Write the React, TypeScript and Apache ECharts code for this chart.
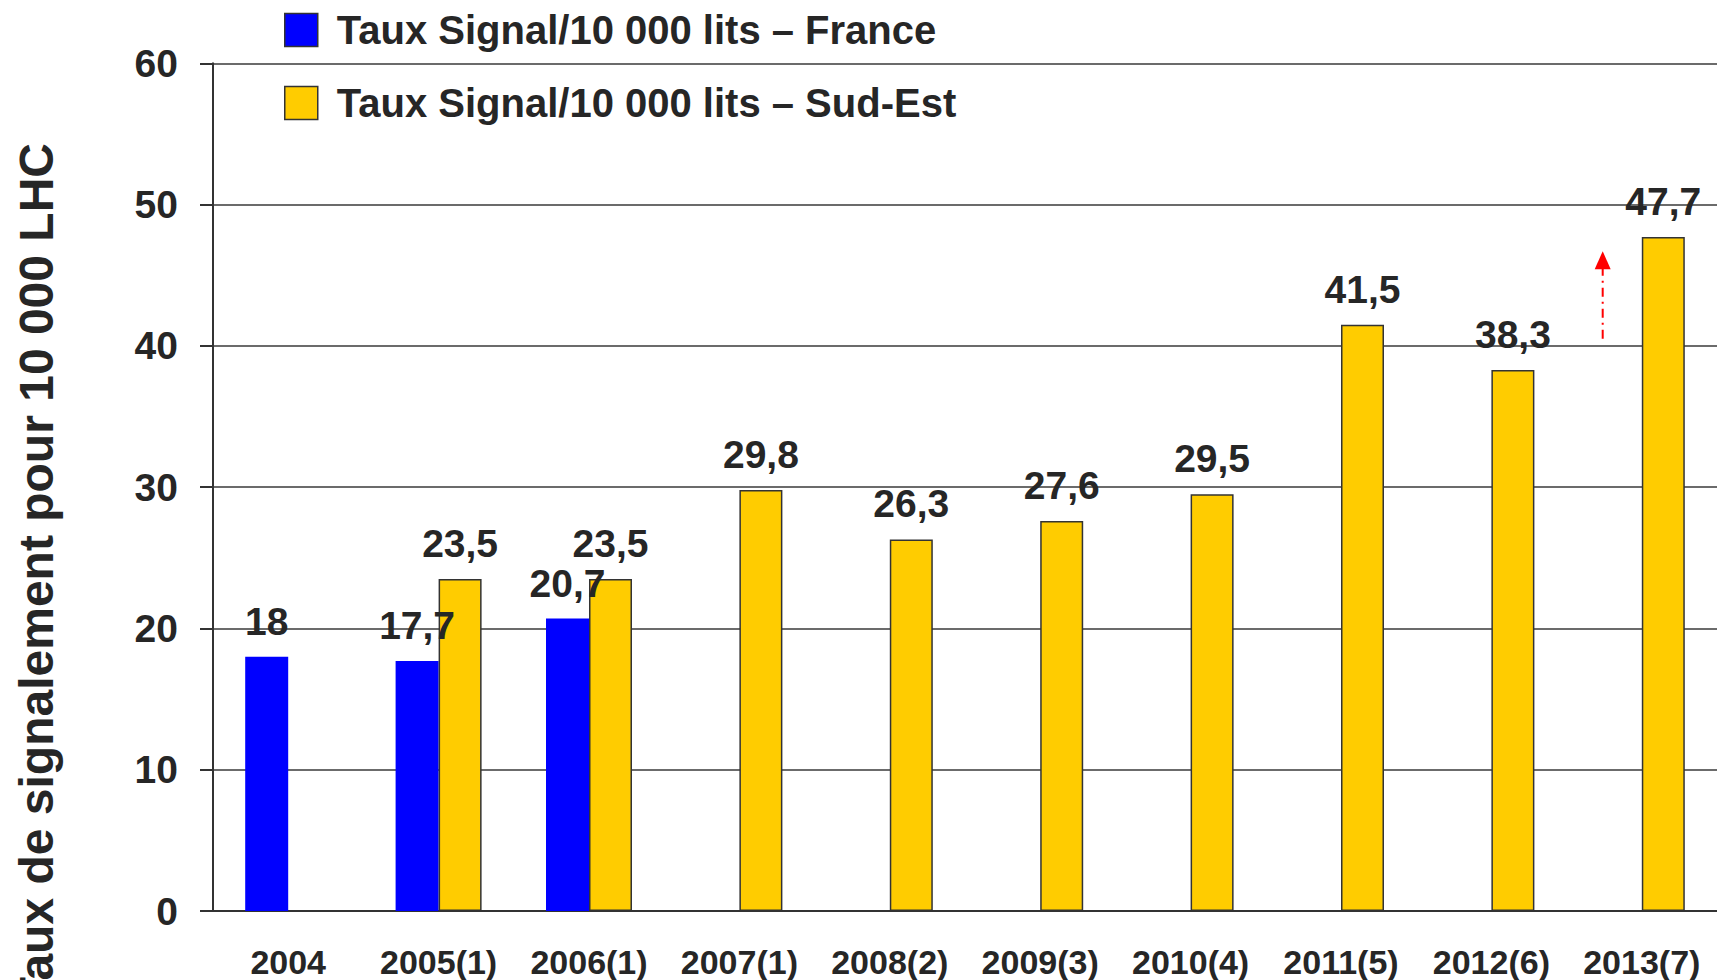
import React, { useEffect, useRef } from "react";
import * as echarts from "echarts";

const categories = [
  "2004",
  "2005(1)",
  "2006(1)",
  "2007(1)",
  "2008(2)",
  "2009(3)",
  "2010(4)",
  "2011(5)",
  "2012(6)",
  "2013(7)",
];
const franceValues = [18, 17.7, 20.7, null, null, null, null, null, null, null];
const sudEstValues = [null, 23.5, 23.5, 29.8, 26.3, 27.6, 29.5, 41.5, 38.3, 47.7];
const seriesNames = [
  "Taux Signal/10 000 lits \u2013 France",
  "Taux Signal/10 000 lits \u2013 Sud-Est",
];
const yAxisTitle = "Taux de signalement pour 10 000 LHC";
const yTicks = { min: 0, max: 60, interval: 10 };
// annotation arrow (value range) near 2013
const arrowCategory = "2013(7)";
const arrowFrom = 40.5;
const arrowLineTo = 45.5;
const arrowTip = 46.7;

const TEXT = "#262626";
const FONT = "'Liberation Sans', Arial, sans-serif";

const fmt = (v: number) => String(v).replace(".", ",");

export default function App() {
  const ref = useRef<HTMLDivElement>(null);
  useEffect(() => {
    document.body.style.margin = "0";
    const chart = echarts.init(ref.current!, null, { renderer: "svg" });
    const labelCfg = {
      show: true,
      position: "top",
      distance: 16,
      color: TEXT,
      fontSize: 39,
      fontWeight: "bold",
      fontFamily: FONT,
      formatter: (p: any) => fmt(p.value),
    };
    chart.setOption({
      animation: false,
      backgroundColor: "#ffffff",
      textStyle: { fontFamily: FONT },
      grid: { left: 213, right: 0, top: 63.3, bottom: 69, containLabel: false },
      legend: {
        orient: "vertical",
        left: 279,
        top: 5,
        itemWidth: 33,
        itemHeight: 33,
        itemGap: 33,
        icon: "rect",
        itemStyle: { borderColor: "#333333", borderWidth: 1.5 },
        textStyle: {
          color: TEXT,
          fontSize: 40,
          fontWeight: "bold",
          fontFamily: FONT,
          padding: [0, 0, 0, 14],
        },
        data: seriesNames,
      },
      xAxis: {
        type: "category",
        data: categories,
        axisLine: { lineStyle: { color: "#333333", width: 2 } },
        axisTick: { length: 11, lineStyle: { color: "#333333", width: 2 } },
        axisLabel: {
          color: TEXT,
          fontSize: 34,
          fontWeight: "bold",
          fontFamily: FONT,
          margin: 34,
          interval: 0,
        },
      },
      yAxis: {
        type: "value",
        min: yTicks.min,
        max: yTicks.max,
        interval: yTicks.interval,
        axisLine: { show: true, lineStyle: { color: "#333333", width: 2 } },
        axisTick: { show: true, length: 13, lineStyle: { color: "#333333", width: 2 } },
        splitLine: { show: true, lineStyle: { color: "#3a3a3a", width: 1.5 } },
        axisLabel: {
          color: TEXT,
          fontSize: 39,
          fontWeight: "bold",
          fontFamily: FONT,
          margin: 35,
        },
      },
      series: [
        {
          name: seriesNames[0],
          type: "bar",
          data: franceValues,
          barWidth: 43,
          barGap: "0%",
          itemStyle: { color: "#0000ff", borderColor: "#333333", borderWidth: 0 },
          label: labelCfg,
        },
        {
          name: seriesNames[1],
          type: "bar",
          data: sudEstValues,
          barWidth: 43,
          barGap: "0%",
          itemStyle: { color: "#ffcc00", borderColor: "#333333", borderWidth: 1.5 },
          label: labelCfg,
        },
      ],
    });

    const idx = categories.indexOf(arrowCategory);
    const cx = chart.convertToPixel({ xAxisIndex: 0 }, categories[idx]) as number;
    const cPrev = chart.convertToPixel({ xAxisIndex: 0 }, categories[idx - 1]) as number;
    const catW = cx - cPrev;
    const ax = cx - catW * 0.26;
    const yFrom = chart.convertToPixel({ yAxisIndex: 0 }, arrowFrom) as number;
    const yTo = chart.convertToPixel({ yAxisIndex: 0 }, arrowLineTo) as number;
    const yTip = chart.convertToPixel({ yAxisIndex: 0 }, arrowTip) as number;

    chart.setOption({
      graphic: [
        {
          type: "text",
          x: 36,
          y: 143,
          rotation: Math.PI / 2,
          style: {
            text: yAxisTitle,
            fill: TEXT,
            font: `bold 48px ${FONT}`,
            textAlign: "right",
            textVerticalAlign: "middle",
          },
        },
        {
          type: "line",
          shape: { x1: ax, y1: yFrom, x2: ax, y2: yTo },
          style: { stroke: "#ff0000", lineWidth: 2, lineDash: [9, 5, 2, 5] },
          z: 10,
        },
        {
          type: "polygon",
          shape: {
            points: [
              [ax - 8, yTo + 1],
              [ax + 8, yTo + 1],
              [ax, yTip],
            ],
          },
          style: { fill: "#ff0000" },
          z: 10,
        },
      ],
    });

    return () => chart.dispose();
  }, []);
  return (
    <div
      ref={ref}
      style={{ position: "fixed", left: 0, top: 0, width: 1717, height: 980 }}
    />
  );
}
